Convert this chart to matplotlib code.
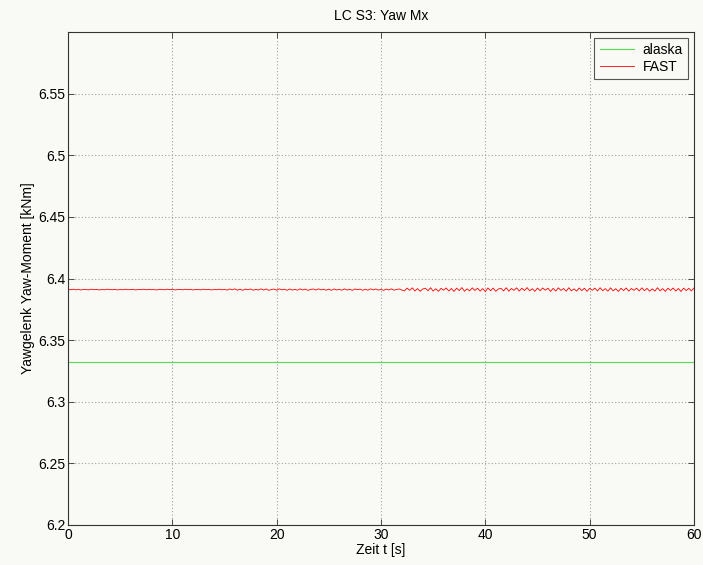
import numpy as np
import matplotlib
matplotlib.use("Agg")
import matplotlib.pyplot as plt

plt.rcParams['font.family'] = ['Liberation Sans', 'DejaVu Sans']

# ---- data ----
title = "LC S3: Yaw Mx"
xlabel = "Zeit t [s]"
ylabel = "Yawgelenk Yaw-Moment [kNm]"
t_start, t_end, t_step = 0.0, 60.0, 0.25
alaska_value = 6.332
fast_base = 6.391
# FAST deviations from base, in units of 1e-4 kNm, one every 0.25 s
fast_dev_1e4 = [
    2, -1, 3, -2, 1, -3, 2, 0, -2, 3,
    -1, 2, -3, 1, -2, 3, 0, -1, 2, -3,
    1, -2, 3, -1, 0, 2, -3, 1, -1, 3,
    -2, 2, -1, 0, -3, 2, 1, -2, 3, -1,
    2, -3, 0, 1, -2, 3, -1, 2, -3, 1,
    0, -2, 3, -1, 2, -3, 1, -1, 3, -2,
    2,
    -4, 5, -2, 6, -5, 3, -6, 4, -1, 5,
    -5, 2, -4, 6, -3, 5, -6, 1, 4, -5,
    6, -2, 3, -6, 5, -4, 2, -5, 6, -3,
    4, -6, 1, 5, -4, 6, -2, 3, -5, 4,
    -6, 5, -3, 2, -5, 6, -4, 3, -6, 5,
    -1, 4, -6, 3, -5, 6, -2, 5, -4, 2,
    -6, 4, -3, 6, -5, 1, 5, -4,
    -10, 12, -6, 14, -11, 8, -13, 5, 11, -9,
    15, -12, 7, -14, 10, -5, 13, -11, 9, -15,
    12, -8, 16, -13, 6, -10, 14, -7, 11, -12,
    8, -16, 13, -9, 12, -14, 5, 10, -11, 15,
    -13, 9, -6, 14, -12, 11, -8, 16, -10, 7,
    -14, 12, -9, 13, -5, 11, -15, 10, -12, 14,
    -7, 9, -13, 15, -10, 6, -12, 13, -8, 11,
    -14, 10, -6, 12, -11, 15, -9, 8, -13, 14,
    -10, 7, -15, 11, -8, 13, -12, 9, -6, 12,
    -11, 14, -9, 10, -13, 6, -12, 15, -10, 8,
    -14, 11, -7, 13, -12, 9, -15, 12, -8, 10,
    -11, 13,
]
xticks = [0, 10, 20, 30, 40, 50, 60]
yticks = [6.2, 6.25, 6.3, 6.35, 6.4, 6.45, 6.5, 6.55]
ytick_labels = ["6.2", "6.25", "6.3", "6.35", "6.4", "6.45", "6.5", "6.55"]

t = t_start + t_step * np.arange(len(fast_dev_1e4))
fast = fast_base + np.array(fast_dev_1e4) * 1e-4
alaska = np.full_like(t, alaska_value)

bg = '#f9f9f5'
fig = plt.figure(figsize=(7.03, 5.65), dpi=100, facecolor=bg)
ax = fig.add_axes([68/703, 40/565, 626/703, 493/565], facecolor=bg)

ax.plot(t, alaska, color='#50e050', lw=0.8, label='alaska')
ax.plot(t, fast, color='#ff0000', lw=0.6, label='FAST')

ax.set_xlim(0, 60)
ax.set_ylim(6.2, 6.6)
ax.set_xticks(xticks)
ax.set_yticks(yticks)
ax.set_yticklabels(ytick_labels)
ax.tick_params(direction='in', top=True, right=True, length=4, labelsize=10, pad=2,
               width=0.6, color='#333333')
ax.grid(True, linestyle=(0, (1, 2)), color='#a0a0a0', lw=0.8)
for s in ax.spines.values():
    s.set_linewidth(0.8)
    s.set_color('#333333')

ax.set_title(title, fontsize=10, pad=9)
ax.set_xlabel(xlabel, fontsize=10, labelpad=1)
ax.set_ylabel(ylabel, fontsize=10, labelpad=2)

leg = ax.legend(loc='upper right', fontsize=10, fancybox=False, framealpha=1,
                edgecolor='#555555', handlelength=2.5, borderaxespad=0.4,
                handletextpad=0.6, labelspacing=0.2, borderpad=0.4)
leg.get_frame().set_facecolor(bg)
leg.get_frame().set_linewidth(0.8)

fig.savefig('out.png', dpi=100, facecolor=bg)
